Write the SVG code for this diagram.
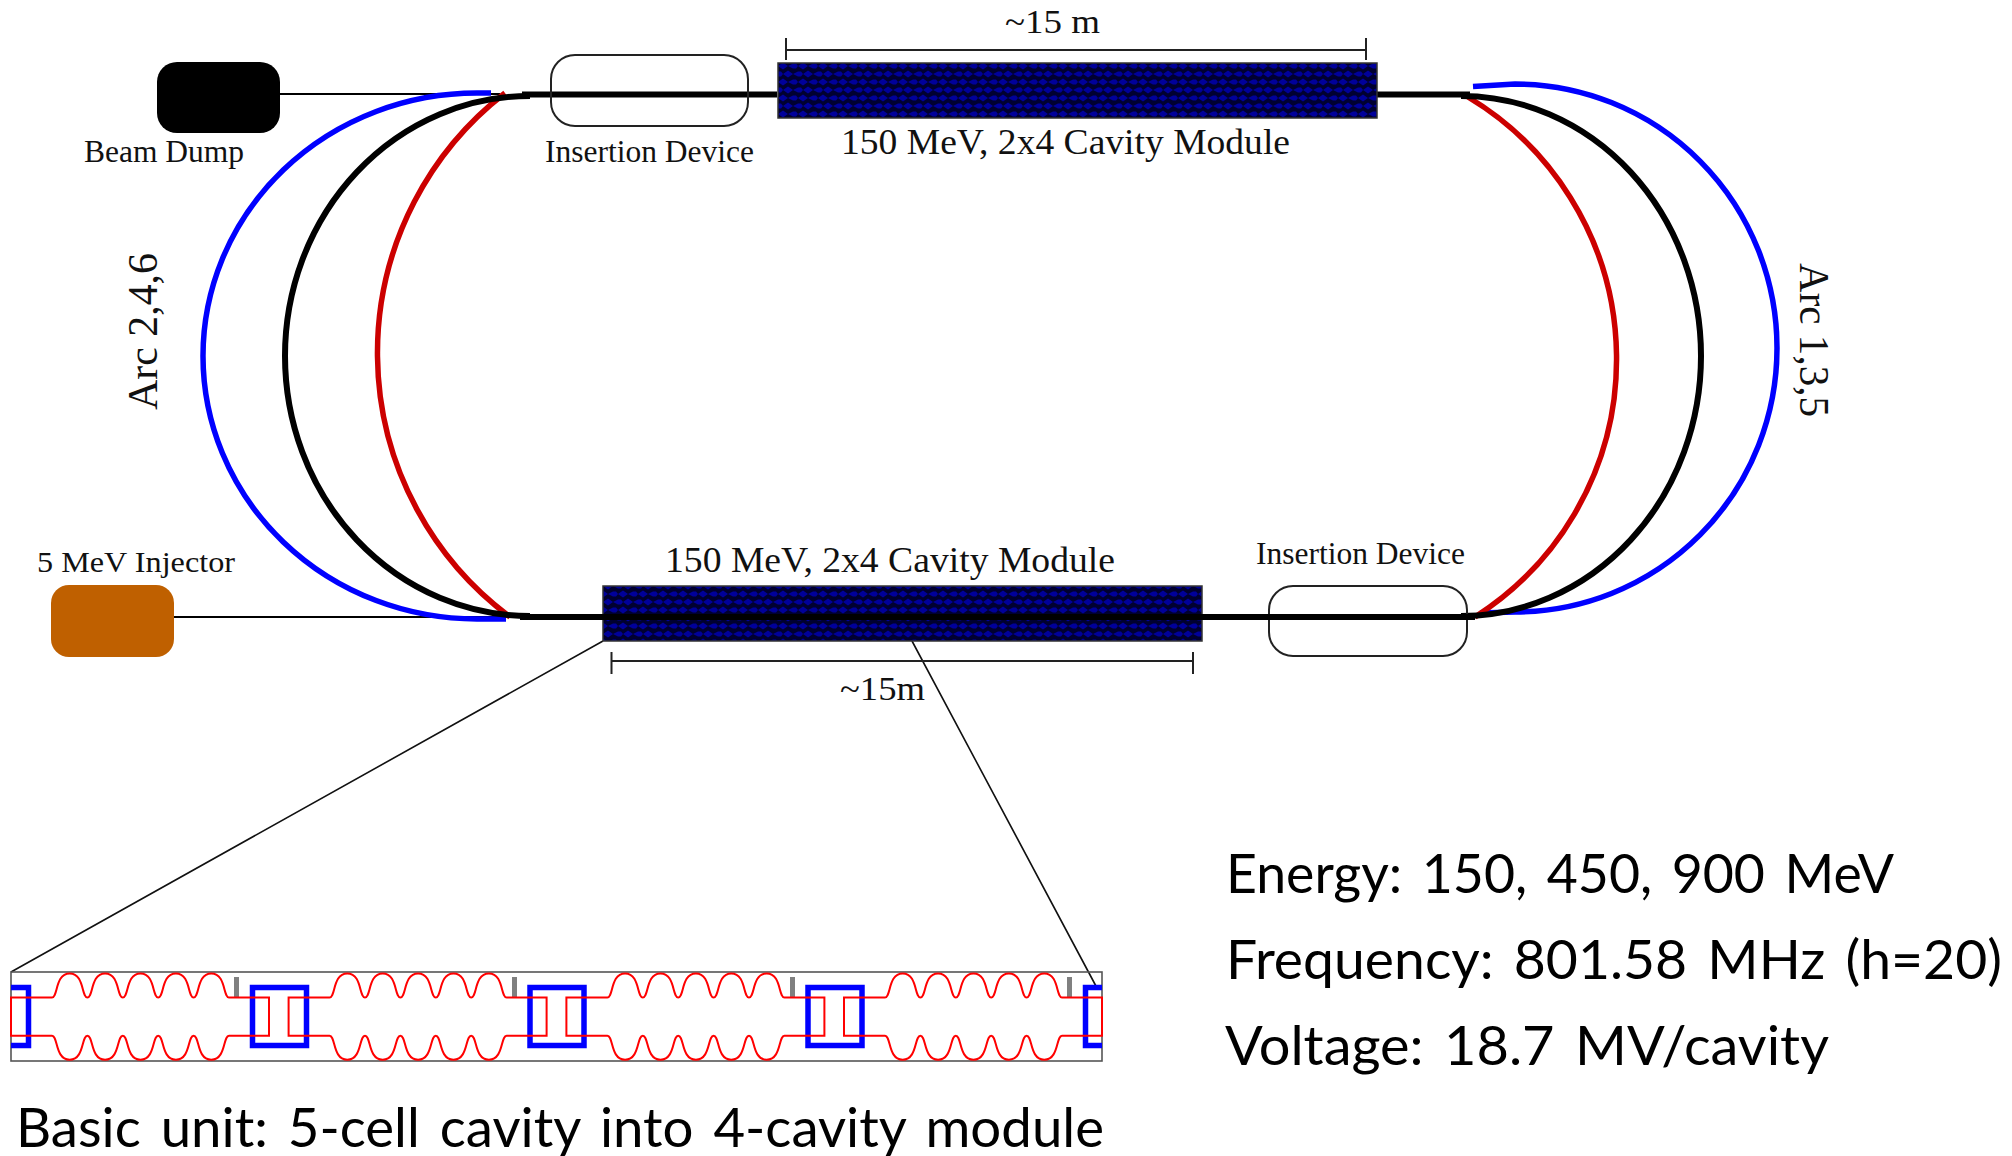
<svg xmlns="http://www.w3.org/2000/svg" xmlns:xlink="http://www.w3.org/1999/xlink" width="2012" height="1156" viewBox="0 0 2012 1156">
<style>
.s{font-family:"Liberation Serif","Times New Roman",serif;fill:#111}
.t{font-family:Lato,"Open Sans",sans-serif;font-size:55px;fill:#000;word-spacing:6px}
.thin{fill:none;stroke:#111;stroke-width:1.6}
.lead{fill:none;stroke:#000;stroke-width:2}
.dim{fill:none;stroke:#222;stroke-width:2}
.id{fill:none;stroke:#222;stroke-width:2}
.beam{fill:none;stroke:#000;stroke-width:6}
.arcb{fill:none;stroke:#0000ff;stroke-width:5.5}
.arck{fill:none;stroke:#000;stroke-width:6}
.arcr{fill:none;stroke:#cc0000;stroke-width:5.5}
.mod{fill:url(#hatch);stroke:#333;stroke-width:1.5}
.cav{fill:none;stroke:#ff0000;stroke-width:2}
.sq{fill:none;stroke:#0000ff;stroke-width:5.5}
.tun{fill:#808080}
</style>
<defs>
<pattern id="hatch" width="40" height="16" patternUnits="userSpaceOnUse" x="778" y="62">
<rect width="40" height="16" fill="#000030"/>
<path d="M0 4L5 .5L10 4L5 7.500Z M10 4L15 1.500H18L20 4L18 6.500H15Z M20 4L25 .5L30 4L25 7.500Z M30 4L35 1.500H38L40 4L38 6.500H35Z" fill="#00009a"/>
<path d="M5 12L10 8.500L15 12L10 15.500Z M15 12L20 9.500H23L25 12L23 14.500H20Z M25 12L30 8.500L35 12L30 15.500Z M35 12L40 9.500V14.500Z M0 9.500H3L5 12L3 14.500H0Z" fill="#00009a"/>
</pattern>
<clipPath id="boxclip"><rect x="11" y="972" width="1091" height="89"/></clipPath>
<path id="cavity" class="cav" d="M0 997.5H41
c6,0 3,-24 17.7,-24 s11.7,24 17.7,24
c6,0 3,-24 17.7,-24 s11.7,24 17.7,24
c6,0 3,-24 17.7,-24 s11.7,24 17.7,24
c6,0 3,-24 17.7,-24 s11.7,24 17.7,24
c6,0 3,-24 17.7,-24 s11.7,24 17.7,24
H258V1035.7H218
c-6,0 -3,24 -17.7,24 s-11.7,-24 -17.7,-24
c-6,0 -3,24 -17.7,24 s-11.7,-24 -17.7,-24
c-6,0 -3,24 -17.7,24 s-11.7,-24 -17.7,-24
c-6,0 -3,24 -17.7,24 s-11.7,-24 -17.7,-24
c-6,0 -3,24 -17.7,24 s-11.7,-24 -17.7,-24
H0Z"/>
</defs>
<rect width="2012" height="1156" fill="#fff"/>

<g id="connectors">
<path class="lead" d="M280 94H500"/>
<path class="lead" d="M174 617H510"/>
<path class="arcb" d="M491 93H477A274 263 0 0 0 477 619H506"/>
<path class="arcr" d="M505 93A329 329 0 0 0 510 617"/>
<path class="arck" d="M530 96A245 260 0 0 0 530 616"/>
<path class="arcb" d="M1473 86.500L1515 84A262 264 0 0 1 1515 612L1480 613"/>
<path class="arcr" d="M1468 97A305.600 305.600 0 0 1 1475 617"/>
<path class="arck" d="M1461 96A240 260 0 0 1 1461 616"/>
<path class="beam" d="M522 94.500H777M1377 94.500H1470"/>
<path class="thin" d="M603 641L11 972M912 641L1097 988"/>
</g>

<g id="beam-dump"><rect x="157" y="62" width="123" height="71" rx="20" fill="#000"/><text class="s" x="84" y="162" font-size="31" textLength="160" lengthAdjust="spacingAndGlyphs">Beam Dump</text></g>
<g id="injector"><rect x="51" y="585" width="123" height="72" rx="18" fill="#bf6000"/><text class="s" x="37" y="572" font-size="30" textLength="198" lengthAdjust="spacingAndGlyphs">5 MeV Injector</text></g>
<g id="insertion-top"><rect class="id" x="551" y="55" width="197" height="71" rx="24"/><text class="s" x="545" y="162" font-size="31" textLength="209" lengthAdjust="spacingAndGlyphs">Insertion Device</text></g>
<g id="insertion-bottom"><rect class="id" x="1269" y="586" width="198" height="70" rx="24"/><text class="s" x="1256" y="564" font-size="31" textLength="209" lengthAdjust="spacingAndGlyphs">Insertion Device</text></g>

<g id="module-top"><rect class="mod" x="778" y="63" width="599" height="55"/><text class="s" x="841" y="154" font-size="36" textLength="449" lengthAdjust="spacingAndGlyphs">150 MeV, 2x4 Cavity Module</text></g>
<g id="module-bottom"><rect class="mod" x="603" y="586" width="599" height="55"/><path class="beam" d="M520 617H1475"/><text class="s" x="665" y="572" font-size="36" textLength="450" lengthAdjust="spacingAndGlyphs">150 MeV, 2x4 Cavity Module</text></g>

<g id="dim-top"><path class="dim" d="M786 38V60M786 50H1366M1366 38V60"/><text class="s" x="1005" y="33" font-size="33" textLength="95" lengthAdjust="spacingAndGlyphs">~15 m</text></g>
<g id="dim-bottom"><path class="dim" d="M611.500 652V674M611.500 661H1193M1193 652V674"/><text class="s" x="840" y="700" font-size="33" textLength="85" lengthAdjust="spacingAndGlyphs">~15m</text></g>

<g id="arc-left"><text class="s" transform="translate(157 410) rotate(-90)" font-size="43" textLength="157" lengthAdjust="spacingAndGlyphs">Arc 2,4,6</text></g>
<g id="arc-right"><text class="s" transform="translate(1800 263) rotate(90)" font-size="43" textLength="154" lengthAdjust="spacingAndGlyphs">Arc 1,3,5</text></g>

<g id="cavity-unit">
<rect x="11" y="972" width="1091" height="89" fill="none" stroke="#555" stroke-width="1.6"/>
<g clip-path="url(#boxclip)">
<rect class="sq" x="-26" y="987.500" width="54.500" height="58"/>
<rect class="sq" x="252.500" y="987.500" width="54" height="58"/>
<rect class="sq" x="530" y="987.500" width="54" height="58"/>
<rect class="sq" x="808" y="987.500" width="54" height="58"/>
<rect class="sq" x="1085.500" y="987.500" width="54" height="58"/>
</g>
<rect class="tun" x="234" y="977" width="5" height="20"/>
<rect class="tun" x="512" y="977" width="5" height="20"/>
<rect class="tun" x="790" y="977" width="5" height="20"/>
<rect class="tun" x="1067" y="977" width="5" height="20"/>
<use xlink:href="#cavity" href="#cavity" x="11"/>
<use xlink:href="#cavity" href="#cavity" x="288.600"/>
<use xlink:href="#cavity" href="#cavity" x="566.400"/>
<use xlink:href="#cavity" href="#cavity" x="844"/>
</g>

<g id="captions">
<text class="t" x="16" y="1147" textLength="1088" lengthAdjust="spacingAndGlyphs">Basic unit: 5-cell cavity into 4-cavity module</text>
<text class="t" x="1226" y="893" textLength="668" lengthAdjust="spacingAndGlyphs">Energy: 150, 450, 900 MeV</text>
<text class="t" x="1226" y="979" textLength="776" lengthAdjust="spacingAndGlyphs">Frequency: 801.58 MHz (h=20)</text>
<text class="t" x="1225" y="1065" textLength="604" lengthAdjust="spacingAndGlyphs">Voltage: 18.7 MV/cavity</text>
</g>
</svg>
